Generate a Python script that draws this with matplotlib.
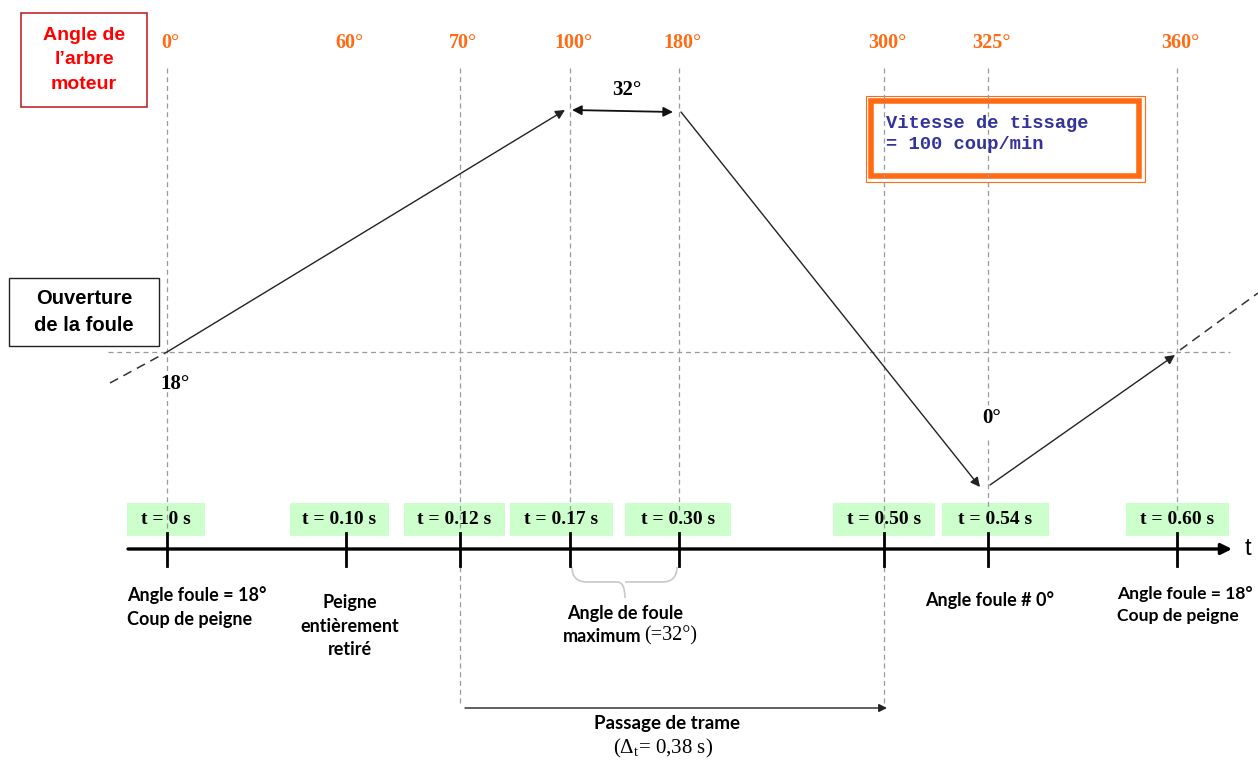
import matplotlib.pyplot as plt
from matplotlib.patches import Rectangle, PathPatch
from matplotlib.path import Path

plt.rcParams['mathtext.fontset'] = 'custom'
plt.rcParams['mathtext.rm'] = 'Liberation Serif'

# diagram data (schematic, positions along the cycle in diagram px)
angle_labels = ['0°', '60°', '70°', '100°', '180°', '300°', '325°', '360°']
time_labels = ['t = 0 s', 't = 0.10 s', 't = 0.12 s', 't = 0.17 s',
               't = 0.30 s', 't = 0.50 s', 't = 0.54 s', 't = 0.60 s']
event_x = [167, 346, 460, 570, 679, 884, 988, 1177]
# vertical guide lines: index of event, bottom end
guide_idx = [0, 2, 3, 4, 5, 6, 7]
guide_bottom = [535, 705, 510, 510, 705, 510, 510]

# shed opening curve (x, y) in diagram units
shed_x = [167, 565, 572, 673, 681, 980, 990, 1175]
shed_y = [352, 110, 110, 112, 112, 487, 485, 355]

orange = '#FF6A13'
gray = '#9a9a9a'
green = '#CCFFCC'
serif = 'Liberation Serif'
arial = 'Liberation Sans'
calibri = 'Lato'

fig = plt.figure(figsize=(12.58, 7.6), dpi=100)
ax = fig.add_axes([0, 0, 1, 1])
ax.set_xlim(0, 1258)
ax.set_ylim(760, 0)
ax.axis('off')

# top angle labels
for x, lab in zip(event_x, angle_labels):
    ax.text(x + 3, 43, lab, color=orange, fontsize=14.5, fontweight='bold',
            family=serif, ha='center', va='center')

# vertical dashed guides
for i, yb in zip(guide_idx, guide_bottom):
    x = event_x[i]
    if i == 6:
        ax.plot([x, x], [68, 405], color=gray, lw=0.9, ls=(0, (4, 3)))
        ax.plot([x, x], [440, yb], color=gray, lw=0.9, ls=(0, (4, 3)))
    else:
        ax.plot([x, x], [68, yb], color=gray, lw=0.9, ls=(0, (4, 3)))

# horizontal dashed reference (18°)
ax.plot([108, 1230], [352, 352], color=gray, lw=0.9, ls=(0, (4, 3)))

# shed curve
ax.plot([110, shed_x[0]], [383, shed_y[0]], color='#333333', lw=1.1, ls=(0, (6, 4)))
ax.plot([1180, 1258], [350, 293], color='#333333', lw=1.1, ls=(0, (6, 4)))
arrow = dict(arrowstyle='-|>', color='#222222', lw=1.0, mutation_scale=14,
             shrinkA=0, shrinkB=0)
for k in (0, 4, 6):
    ax.annotate('', xy=(shed_x[k + 1], shed_y[k + 1]), xytext=(shed_x[k], shed_y[k]),
                arrowprops=arrow)
ax.annotate('', xy=(shed_x[2], shed_y[2]), xytext=(shed_x[3], shed_y[3]),
            arrowprops=dict(arrowstyle='<|-|>', color='#111111', lw=1.3,
                            mutation_scale=14, shrinkA=0, shrinkB=0))
ax.text(627, 90, '32°', fontsize=15, fontweight='bold', family=serif,
        ha='center', va='center')
ax.text(175, 384, '18°', fontsize=15, fontweight='bold', family=serif,
        ha='center', va='center')
ax.text(992, 418, '0°', fontsize=15, fontweight='bold', family=serif,
        ha='center', va='center')

# label boxes
ax.add_patch(Rectangle((21, 13), 126, 94, fill=False, ec='#C0282D', lw=1.2))
ax.text(84, 60, "Angle de\nl’arbre\nmoteur", color='#FF0000', fontsize=14,
        fontweight='bold', family=arial, ha='center', va='center', linespacing=1.55)
ax.add_patch(Rectangle((9, 278), 150, 68, fill=False, ec='#222222', lw=1.0))
ax.text(84, 312, "Ouverture\nde la foule", color='black', fontsize=14.5,
        fontweight='bold', family=arial, ha='center', va='center', linespacing=1.5)
ax.add_patch(Rectangle((866, 96), 279, 86, fill=False, ec=orange, lw=0.8))
ax.add_patch(Rectangle((871, 101), 268, 75, fill=False, ec=orange, lw=4))
ax.text(886, 134, "Vitesse de tissage\n= 100 coup/min", color='#333399',
        fontsize=13.5, fontweight='bold', family='Liberation Mono',
        ha='left', va='center', linespacing=1.25)

# time axis
ax.annotate('', xy=(1232, 549), xytext=(128, 549),
            arrowprops=dict(arrowstyle='-|>', color='black', lw=2.4,
                            mutation_scale=16, shrinkA=0, shrinkB=0))
ax.text(1248, 549, 't', fontsize=17, family=arial, ha='center', va='center')
box_w = [78, 99, 101, 103, 106, 102, 107, 103]
box_x = [127, 290, 404, 510, 625, 833, 942, 1126]
for x, bx, bw, lab in zip(event_x, box_x, box_w, time_labels):
    ax.plot([x, x], [533, 566], color='black', lw=2.0)
    ax.add_patch(Rectangle((bx, 503), bw, 33, fc=green, ec='none', zorder=0))
    ax.text(bx + bw / 2, 520, lab, fontsize=14, fontweight='bold', family=serif,
            ha='center', va='center')

# descriptions under the axis
fs = 13
ax.text(127, 607, "Angle foule = 18°\nCoup de peigne", fontsize=fs, fontweight='bold',
        family=calibri, ha='left', va='center', linespacing=1.45)
ax.text(350, 626, "Peigne\nentièrement\nretiré", fontsize=fs, fontweight='bold',
        family=calibri, ha='center', va='center', linespacing=1.45)
ax.text(625, 613, "Angle de foule", fontsize=fs, fontweight='bold',
        family=calibri, ha='center', va='center')
ax.text(641, 637, "maximum", fontsize=fs, fontweight='bold',
        family=calibri, ha='right', va='center')
ax.text(644, 636, "(=32°)", fontsize=14.5, family=serif, ha='left', va='center')
ax.text(990, 600, "Angle foule # 0°", fontsize=fs, fontweight='bold',
        family=calibri, ha='center', va='center')
ax.text(1117, 605, "Angle foule = 18°\nCoup de peigne", fontsize=12.6, fontweight='bold',
        family=calibri, ha='left', va='center', linespacing=1.5)

# brace under 100°-180°
l, r, m, yt, yb = event_x[3] + 2, event_x[4] - 2, 625, 567, 582
verts = [(l, yt), (l, yb), (l + 15, yb), (m - 8, yb), (m, yb), (m, yb + 16),
         (m, yb), (m + 8, yb), (r - 15, yb), (r, yb), (r, yt)]
codes = [Path.MOVETO, Path.CURVE3, Path.CURVE3, Path.LINETO, Path.CURVE3, Path.CURVE3,
         Path.MOVETO, Path.CURVE3, Path.LINETO, Path.CURVE3, Path.CURVE3]
ax.add_patch(PathPatch(Path(verts, codes), fill=False, ec='#c8c8c8', lw=1.2))

# passage de trame
ax.annotate('', xy=(event_x[5] + 3, 708), xytext=(event_x[2] + 5, 708),
            arrowprops=dict(arrowstyle='-|>', color='#222222', lw=1.0,
                            mutation_scale=12, shrinkA=0, shrinkB=0))
ax.text(667, 724, "Passage de trame", fontsize=13.5, fontweight='bold',
        family=calibri, ha='center', va='center')
ax.text(663, 748, r"($\Delta_{\mathrm{t}}$= 0,38 s)", fontsize=15, family=serif,
        ha='center', va='center')

fig.savefig('out.png', dpi=100)
